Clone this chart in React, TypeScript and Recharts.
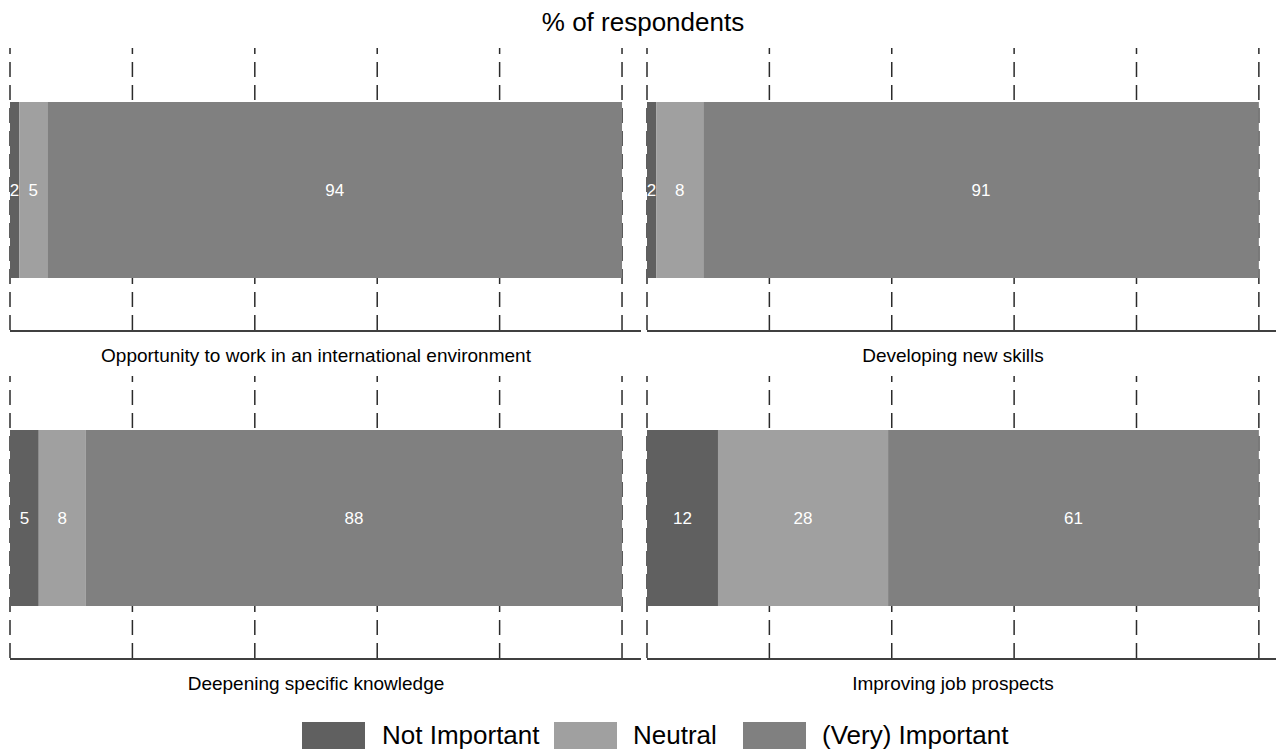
import React from "react";
import { Bar, BarChart, CartesianGrid, LabelList, XAxis, YAxis } from "recharts";

const panels = [
  "Opportunity to work in an international environment",
  "Developing new skills",
  "Deepening specific knowledge",
  "Improving job prospects",
];
const notImportant = [1.5, 1.5, 4.7, 11.6];
const neutral = [4.6, 7.7, 7.7, 27.8];
const important = [93.9, 90.8, 87.6, 60.6];
const xTicks = [0, 20, 40, 60, 80, 100];

const series = [
  { key: "notImportant", name: "Not Important", color: "#606060" },
  { key: "neutral", name: "Neutral", color: "#a0a0a0" },
  { key: "important", name: "(Very) Important", color: "#808080" },
];

const font = '"Liberation Sans", Arial, sans-serif';

// plot spans 612px for 0..100; the axis line runs past it to the panel edge
const layout = [
  { left: 0, top: 0, width: 641, domainMax: 103.1 },
  { left: 637, top: 0, width: 639, domainMax: 102.8 },
  { left: 0, top: 328, width: 641, domainMax: 103.1 },
  { left: 637, top: 328, width: 639, domainMax: 102.8 },
];

// legend item positions (swatch left, text left)
const legendPos = [
  { swatch: 302, text: 382 },
  { swatch: 554, text: 633 },
  { swatch: 743, text: 822 },
];

function Panel({ i }: { i: number }) {
  const l = layout[i];
  const data = [
    {
      name: panels[i],
      notImportant: notImportant[i],
      neutral: neutral[i],
      important: important[i],
    },
  ];
  return (
    <div style={{ position: "absolute", left: l.left, top: l.top }}>
      <BarChart
        width={l.width}
        height={340}
        data={data}
        layout="vertical"
        margin={{ top: 48, right: 0, bottom: 8, left: 10 }}
      >
        <CartesianGrid
          horizontal={false}
          syncWithTicks
          stroke="#2b2b2b"
          strokeWidth={1.5}
          strokeDasharray="15 8"
          strokeDashoffset={9}
        />
        <XAxis
          type="number"
          domain={[0, l.domainMax]}
          allowDataOverflow
          ticks={xTicks}
          interval={0}
          tick={{ fill: "transparent", fontSize: 1 }}
          tickLine={false}
          height={1}
          axisLine={{ stroke: "#000", strokeWidth: 1.5 }}
        />
        <YAxis type="category" dataKey="name" hide />
        {series.map((s) => (
          <Bar
            key={s.key}
            dataKey={s.key}
            stackId="a"
            fill={s.color}
            barSize={176}
            isAnimationActive={false}
          >
            <LabelList
              dataKey={s.key}
              position="center"
              fill="#fff"
              fontSize={17}
              fontFamily={font}
              formatter={(v: number) => Math.round(v)}
            />
          </Bar>
        ))}
      </BarChart>
      <div
        style={{
          position: "absolute",
          left: 10,
          width: 612,
          top: 345,
          textAlign: "center",
          fontSize: 19,
          fontFamily: font,
          color: "#000",
          whiteSpace: "nowrap",
        }}
      >
        {panels[i]}
      </div>
    </div>
  );
}

export default function App() {
  return (
    <div
      style={{
        position: "absolute",
        left: 0,
        top: 0,
        width: 1276,
        height: 752,
        background: "#fff",
        fontFamily: font,
        overflow: "hidden",
      }}
    >
      <div
        style={{
          position: "absolute",
          left: 10,
          width: 1266,
          top: 7,
          textAlign: "center",
          fontSize: 26,
          whiteSpace: "nowrap",
        }}
      >
        % of respondents
      </div>
      {panels.map((_, i) => (
        <Panel key={i} i={i} />
      ))}
      {series.map((s, k) => (
        <React.Fragment key={s.key}>
          <div
            style={{
              position: "absolute",
              left: legendPos[k].swatch,
              top: 722,
              width: 63,
              height: 27,
              background: s.color,
            }}
          />
          <div
            style={{
              position: "absolute",
              left: legendPos[k].text,
              top: 720,
              fontSize: 26,
              whiteSpace: "nowrap",
            }}
          >
            {s.name}
          </div>
        </React.Fragment>
      ))}
    </div>
  );
}
